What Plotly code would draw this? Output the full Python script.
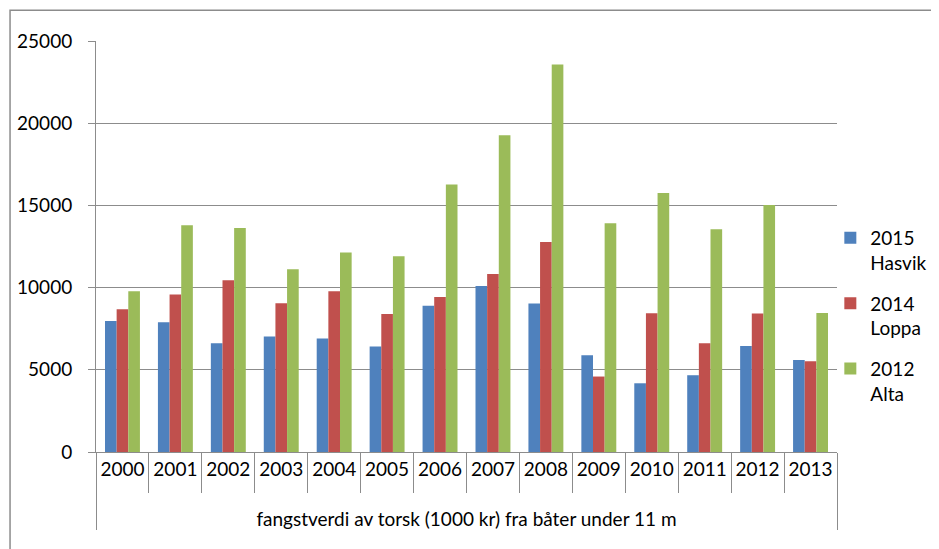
import plotly.graph_objects as go

years = ["2000", "2001", "2002", "2003", "2004", "2005", "2006",
         "2007", "2008", "2009", "2010", "2011", "2012", "2013"]
group_label = "fangstverdi av torsk (1000 kr) fra båter under 11 m"

hasvik_2015 = [7970, 7890, 6620, 7020, 6900, 6410, 8890, 10100, 9030, 5880, 4180, 4670, 6450, 5600]
loppa_2014 = [8690, 9580, 10450, 9050, 9780, 8400, 9430, 10830, 12770, 4590, 8440, 6620, 8420, 5520]
alta_2012 = [9780, 13800, 13620, 11120, 12130, 11910, 16270, 19270, 23570, 13920, 15750, 13550, 15030, 8460]

series_names = ["2015<br>Hasvik", "2014<br>Loppa", "2012<br>Alta"]
series_values = [hasvik_2015, loppa_2014, alta_2012]
colors = ["#4F81BD", "#C0504D", "#9BBB59"]

FONT = "Lato"
GRAY = "#8C8C8C"

x_multi = [["<br>" + group_label] * len(years), years]

fig = go.Figure()
for i, (name, vals, col) in enumerate(zip(series_names, series_values, colors)):
    fig.add_trace(go.Bar(x=x_multi, y=vals, name=name, marker_color=col,
                         marker_line_width=0, legendgroup=f"g{i}"))

# page has an 8px body margin, so the figure is 8px smaller than the window
fig.update_layout(
    width=931, height=541,
    margin=dict(l=88, r=102, t=33, b=97, autoexpand=False),
    paper_bgcolor="white", plot_bgcolor="white",
    barmode="group", bargap=0.34, bargroupgap=0,
    font=dict(family=FONT, size=19, color="#000000"),
    legend=dict(x=0.991, xanchor="left", xref="paper", y=0.567, yanchor="top",
                traceorder="grouped", tracegroupgap=13, valign="top",
                font=dict(family=FONT, size=19), bgcolor="rgba(0,0,0,0)"),
    xaxis=dict(type="multicategory", showline=True, linecolor=GRAY, linewidth=1,
               ticks="outside", tickson="boundaries", ticklen=40, tickcolor=GRAY,
               tickwidth=1, showdividers=True, dividercolor=GRAY, dividerwidth=1,
               tickangle=0, showgrid=False, automargin=False,
               tickfont=dict(family=FONT, size=19)),
    yaxis=dict(range=[0, 25000], dtick=5000, tickformat="d", showgrid=True,
               gridcolor=GRAY, gridwidth=1,
               showline=True, linecolor=GRAY, linewidth=1, ticks="outside", ticklen=7,
               tickcolor=GRAY, zeroline=False, ticklabelstandoff=12, automargin=False,
               tickfont=dict(family=FONT, size=19)),
    shapes=[dict(type="rect", xref="paper", yref="paper",
                 x0=-0.116, x1=1.2, y0=-0.4, y1=1.075,
                 line=dict(color=GRAY, width=1.5), fillcolor="rgba(0,0,0,0)", layer="below")],
)

fig.write_html("out.html")
